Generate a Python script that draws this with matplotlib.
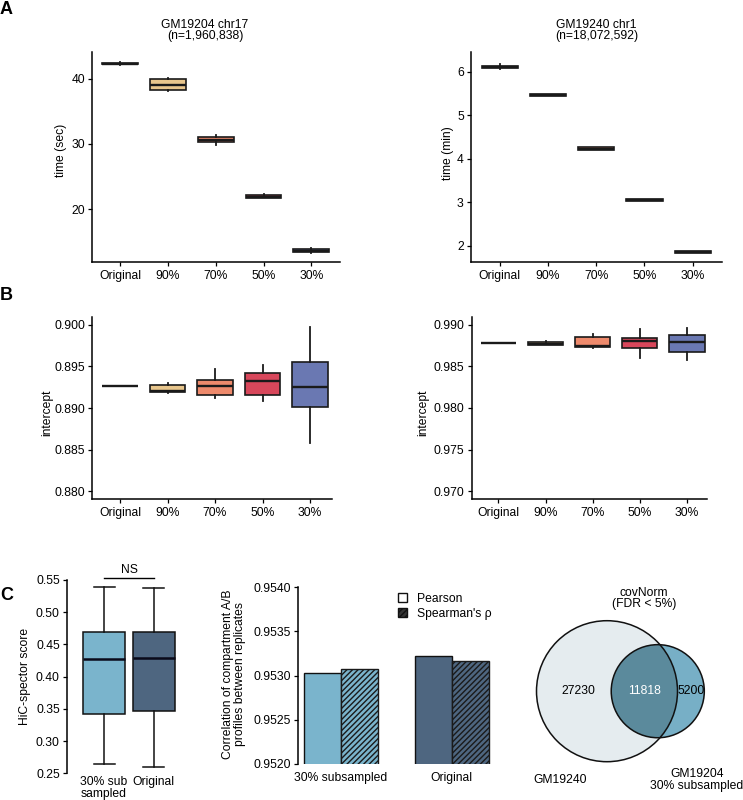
import numpy as np
import matplotlib
matplotlib.use("Agg")
import matplotlib.pyplot as plt
from matplotlib.patches import Circle, Patch

plt.rcParams['font.family'] = ['Liberation Sans', 'DejaVu Sans']
plt.rcParams['hatch.linewidth'] = 1.0

# ---------------- data ----------------
cats = ["Original", "90%", "70%", "50%", "30%"]
box_colors = ["#444444", "#E8C68C", "#EE8A6C", "#D8475B", "#6A78B2"]

# stats order: whislo, q1, median, q3, whishi
a_left_whislo = [42.2, 38.1, 29.9, 21.7, 13.3]
a_left_q1 = [42.25, 38.3, 30.3, 21.75, 13.35]
a_left_med = [42.35, 39.1, 30.6, 21.9, 13.6]
a_left_q3 = [42.5, 40.0, 31.0, 22.1, 13.9]
a_left_whishi = [42.6, 40.2, 31.4, 22.3, 14.0]

a_right_whislo = [6.05, 5.45, 4.20, 3.03, 1.84]
a_right_q1 = [6.08, 5.45, 4.20, 3.03, 1.84]
a_right_med = [6.10, 5.47, 4.23, 3.05, 1.86]
a_right_q3 = [6.13, 5.49, 4.26, 3.07, 1.88]
a_right_whishi = [6.17, 5.49, 4.26, 3.07, 1.88]

b_left_whislo = [0.89259, 0.89180, 0.89119, 0.89083, 0.88577]
b_left_q1 = [0.89259, 0.89190, 0.89151, 0.89159, 0.89018]
b_left_med = [0.89259, 0.89200, 0.89259, 0.89331, 0.89253]
b_left_q3 = [0.89259, 0.89276, 0.89340, 0.89416, 0.89560]
b_left_whishi = [0.89259, 0.89307, 0.89469, 0.89516, 0.89981]

b_right_whislo = [0.98778, 0.98758, 0.98719, 0.98607, 0.98575]
b_right_q1 = [0.98778, 0.98762, 0.98740, 0.98723, 0.98671]
b_right_med = [0.98778, 0.98768, 0.98752, 0.98807, 0.98792]
b_right_q3 = [0.98778, 0.98790, 0.98855, 0.98848, 0.98876]
b_right_whishi = [0.98778, 0.98810, 0.98896, 0.98956, 0.98964]

c_box_labels = ["30% sub\nsampled", "Original"]
c_box_colors = ["#7AB4CC", "#4E6680"]
c_whislo = [0.2649, 0.2597]
c_q1 = [0.3420, 0.3462]
c_med = [0.4274, 0.4295]
c_q3 = [0.4688, 0.4688]
c_whishi = [0.5387, 0.5376]

bar_groups = ["30% subsampled", "Original"]
pearson = [0.95303, 0.95322]
spearman = [0.95307, 0.95317]

venn_only_a = 27230   # GM19240 only
venn_both = 11818
venn_only_b = 5200    # GM19204 30% subsampled only

# ---------------- figure ----------------
W, H = 743, 800
fig = plt.figure(figsize=(W / 100, H / 100), dpi=100)


def px_axes(x0, y0, x1, y1):
    return fig.add_axes([x0 / W, 1 - y1 / H, (x1 - x0) / W, (y1 - y0) / H])


def ftext(x, y, s, **kw):
    fig.text(x / W, 1 - y / H, s, **kw)


TS = 8.7


def style_ax(ax):
    for s in ["top", "right"]:
        ax.spines[s].set_visible(False)
    for s in ["left", "bottom"]:
        ax.spines[s].set_linewidth(1.1)
    ax.tick_params(axis="both", labelsize=TS, length=3, width=0.9, pad=2, colors="black")
    ax.tick_params(axis="x", pad=3)


def draw_box(ax, whislo, q1, med, q3, whishi, colors, width, xlim, ylim, yticks, yfmt):
    stats = []
    for i in range(len(q1)):
        stats.append(dict(whislo=whislo[i], q1=q1[i], med=med[i], q3=q3[i], whishi=whishi[i], fliers=[]))
    bp = ax.bxp(stats, positions=np.arange(1, len(q1) + 1), widths=width, showfliers=False,
                patch_artist=True, showcaps=False,
                boxprops=dict(linewidth=1.2, edgecolor="#1a1a1a"),
                medianprops=dict(color="#1a1a1a", linewidth=1.7),
                whiskerprops=dict(color="#1a1a1a", linewidth=1.3))
    for p, c in zip(bp["boxes"], colors):
        p.set_facecolor(c)
    ax.set_xlim(*xlim)
    ax.set_ylim(*ylim)
    ax.set_yticks(yticks)
    ax.set_yticklabels([yfmt.format(v) for v in yticks])
    ax.set_xticks(np.arange(1, len(q1) + 1))
    ax.set_xticklabels(cats)
    style_ax(ax)
    return bp


# Panel A
ax = px_axes(92, 52, 340, 262)
draw_box(ax, a_left_whislo, a_left_q1, a_left_med, a_left_q3, a_left_whishi, box_colors, 0.75,
         (0.41, 5.6), (11.85, 44.15), [20, 30, 40], "{:.0f}")
ax = px_axes(470.7, 52, 721.7, 262)
draw_box(ax, a_right_whislo, a_right_q1, a_right_med, a_right_q3, a_right_whishi, box_colors, 0.75,
         (0.4, 5.6), (1.63, 6.45), [2, 3, 4, 5, 6], "{:.0f}")

# Panel B
ax = px_axes(92, 317, 331.7, 499)
draw_box(ax, b_left_whislo, b_left_q1, b_left_med, b_left_q3, b_left_whishi, box_colors, 0.75,
         (0.41, 5.457), (0.87904, 0.90096), [0.880, 0.885, 0.890, 0.895, 0.900], "{:.3f}")
ax = px_axes(471.5, 317, 706.7, 499)
draw_box(ax, b_right_whislo, b_right_q1, b_right_med, b_right_q3, b_right_whishi, box_colors, 0.75,
         (0.43, 5.42), (0.96904, 0.99096), [0.970, 0.975, 0.980, 0.985, 0.990], "{:.3f}")

# titles & labels
ftext(205, 30.5, "GM19204 chr17\n(n=1,960,838)", ha="center", va="center", fontsize=TS, linespacing=1.0)
ftext(596.5, 30.5, "GM19240 chr1\n(n=18,072,592)", ha="center", va="center", fontsize=TS, linespacing=1.0)
ftext(61, 150, "time (sec)", rotation=90, ha="center", va="center", fontsize=TS)
ftext(448, 153, "time (min)", rotation=90, ha="center", va="center", fontsize=TS)
ftext(47, 413, "intercept", rotation=90, ha="center", va="center", fontsize=TS)
ftext(423, 413, "intercept", rotation=90, ha="center", va="center", fontsize=TS)
ftext(0, 10, "A", fontsize=13, fontweight="bold", va="center", ha="left")
ftext(0, 296, "B", fontsize=13, fontweight="bold", va="center", ha="left")
ftext(0, 596, "C", fontsize=13, fontweight="bold", va="center", ha="left")

# Panel C left: HiC-spector boxplot
ax = px_axes(66.7, 580, 190, 773.3)
stats = []
for i in range(2):
    stats.append(dict(whislo=c_whislo[i], q1=c_q1[i], med=c_med[i], q3=c_q3[i], whishi=c_whishi[i], fliers=[]))
bp = ax.bxp(stats, positions=[1, 2], widths=0.84, showfliers=False, patch_artist=True,
            boxprops=dict(linewidth=1.1, edgecolor="#111111"),
            medianprops=dict(color="#0a0a1a", linewidth=1.8),
            whiskerprops=dict(color="#111111", linewidth=1.1),
            capprops=dict(color="#111111", linewidth=1.1), capwidths=0.42)
for p, c in zip(bp["boxes"], c_box_colors):
    p.set_facecolor(c)
ax.set_xlim(0.25, 2.726)
ax.set_ylim(0.25, 0.55)
ax.set_yticks([0.25, 0.30, 0.35, 0.40, 0.45, 0.50, 0.55])
ax.set_yticklabels(["0.25", "0.30", "0.35", "0.40", "0.45", "0.50", "0.55"])
ax.set_xticks([1, 2])
ax.set_xticklabels(c_box_labels, linespacing=0.95)
style_ax(ax)
ax.spines["bottom"].set_visible(False)
ax.tick_params(axis="x", length=0, pad=2)
ax.plot([1.0, 2.0], [0.5535, 0.5535], color="black", lw=1.0, clip_on=False)
ax.text(1.5, 0.556, "NS", ha="center", va="bottom", fontsize=TS)
ftext(25, 676, "HiC-spector score", rotation=90, ha="center", va="center", fontsize=TS)

# Panel C middle: bars
ax = px_axes(298.3, 587.3, 500, 763.7)
xg = np.arange(len(bar_groups))
bw = 0.334
ax.bar(xg - bw / 2, pearson, width=bw, color=c_box_colors, edgecolor="#111111", linewidth=1.0)
ax.bar(xg + bw / 2, spearman, width=bw, color=c_box_colors, edgecolor="#1a1a1a", linewidth=1.0,
       hatch="//////")
ax.set_xlim(-0.386, 1.436)
ax.set_ylim(0.9520, 0.9540)
yt = [0.9520, 0.9525, 0.9530, 0.9535, 0.9540]
ax.set_yticks(yt)
ax.set_yticklabels(["{:.4f}".format(v) for v in yt])
ax.set_xticks(xg)
ax.set_xticklabels(bar_groups)
style_ax(ax)
ax.spines["bottom"].set_visible(False)
ax.tick_params(axis="x", length=0, pad=6)
handles = [Patch(facecolor="white", edgecolor="#111111", linewidth=1.0, label="Pearson"),
           Patch(facecolor="#333333", edgecolor="#111111", linewidth=1.0, hatch="//////", label="Spearman's ρ")]
fig.legend(handles=handles, loc="upper left", bbox_to_anchor=(398 / W, 1 - 593 / H), frameon=False,
           fontsize=TS, handlelength=0.75, handleheight=0.75, handletextpad=0.8, labelspacing=0.25,
           borderaxespad=0, borderpad=0)
ftext(234, 674, "Correlation of compartment A/B\nprofiles between replicates", rotation=90,
      ha="center", va="center", fontsize=TS, linespacing=0.95)

# Panel C right: Venn
ax = px_axes(530, 615, 730, 770)
set_a = venn_only_a + venn_both
set_b = venn_only_b + venn_both
r1 = 1.0
r2 = np.sqrt(set_b / set_a) * r1
target = venn_both / set_a * np.pi * r1 ** 2


def lens(d):
    a1 = r1 ** 2 * np.arccos((d ** 2 + r1 ** 2 - r2 ** 2) / (2 * d * r1))
    a2 = r2 ** 2 * np.arccos((d ** 2 + r2 ** 2 - r1 ** 2) / (2 * d * r2))
    a3 = 0.5 * np.sqrt((-d + r1 + r2) * (d + r1 - r2) * (d - r1 + r2) * (d + r1 + r2))
    return a1 + a2 - a3


lo, hi = r1 - r2 + 1e-6, r1 + r2 - 1e-6
for _ in range(80):
    mid = 0.5 * (lo + hi)
    if lens(mid) > target:
        lo = mid
    else:
        hi = mid
d = 0.5 * (lo + hi)
scale = 70.5  # px per unit radius
ax.set_xlim(0, 200 / scale)
ax.set_ylim(0, 155 / scale)
ax.set_aspect("equal")
ax.axis("off")
ca = (77 / scale, 78.8 / scale)
cb = (ca[0] + d, ca[1])
big = Circle(ca, r1, facecolor="#E5ECEF", edgecolor="none")
small = Circle(cb, r2, facecolor="#77AFC6", edgecolor="none")
ax.add_patch(big)
ax.add_patch(small)
inter = Circle(cb, r2, facecolor="#5B8A9C", edgecolor="none")
ax.add_patch(inter)
inter.set_clip_path(big)
ax.add_patch(Circle(ca, r1, facecolor="none", edgecolor="#111111", linewidth=1.1))
ax.add_patch(Circle(cb, r2, facecolor="none", edgecolor="#111111", linewidth=1.1))
ax.text(ca[0] - 0.4, ca[1], str(venn_only_a), ha="center", va="center", fontsize=TS)
ax.text((ca[0] + r1 + cb[0] - r2) / 2, ca[1], str(venn_both), ha="center", va="center", fontsize=TS,
        color="white")
ax.text((ca[0] + r1 + cb[0] + r2) / 2, ca[1], str(venn_only_b), ha="center", va="center", fontsize=TS)
ftext(644, 598.5, "covNorm\n(FDR < 5%)", ha="center", va="center", fontsize=TS, linespacing=0.95)
ftext(560, 780, "GM19240", ha="center", va="center", fontsize=TS)
ftext(697, 780, "GM19204\n30% subsampled", ha="center", va="center", fontsize=TS, linespacing=0.95)

fig.savefig("out.png", dpi=100)
